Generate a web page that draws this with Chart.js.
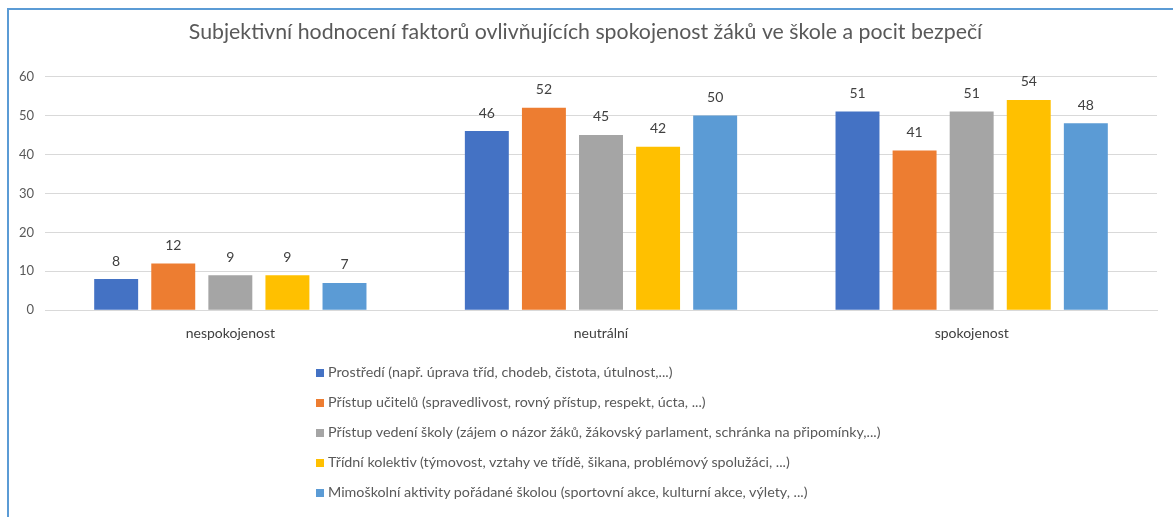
<!DOCTYPE html>
<html>
<head>
<meta charset="utf-8">
<script src="https://cdn.jsdelivr.net/npm/chart.js@4/dist/chart.umd.min.js"></script>
<style>
  html, body { margin: 0; padding: 0; background: #fff; }
  #wrap { position: relative; width: 1173px; height: 517px; overflow: hidden; }
  #frame { position: absolute; left: 7px; top: 8px; width: 1180px; height: 520px;
           border-left: 2px solid #5b9bd5; border-top: 2px solid #5b9bd5; box-sizing: border-box; }
  #chart { position: absolute; left: 0; top: 0; }
  #legend { position: absolute; left: 316px; top: 362px; font-family: Lato, sans-serif;
            font-size: 14.3px; color: #595959; }
  #legend div { height: 30px; line-height: 20px; white-space: nowrap; }
  #legend span { display: inline-block; width: 8px; height: 8px; margin-right: 4px; vertical-align: 0px; }
</style>
</head>
<body>
<div id="wrap">
  <div id="frame"></div>
  <canvas id="chart" width="1173" height="517"></canvas>
  <div id="legend"></div>
</div>
<script>
const categories = ["nespokojenost", "neutrální", "spokojenost"];
const seriesNames = [
  "Prostředí (např. úprava tříd, chodeb, čistota, útulnost,...)",
  "Přístup učitelů (spravedlivost, rovný přístup, respekt, úcta, ...)",
  "Přístup vedení školy (zájem o názor žáků, žákovský parlament, schránka na připomínky,...)",
  "Třídní kolektiv (týmovost, vztahy ve třídě, šikana, problémový spolužáci, ...)",
  "Mimoškolní aktivity pořádané školou (sportovní akce, kulturní akce, výlety, ...)"
];
const prostredi = [8, 46, 51];
const ucitele = [12, 52, 41];
const vedeni = [9, 45, 51];
const kolektiv = [9, 42, 54];
const aktivity = [7, 50, 48];
const yTicks = [0, 10, 20, 30, 40, 50, 60];

const colors = ["#4472c4", "#ed7d31", "#a5a5a5", "#ffc000", "#5b9bd5"];
const values = [prostredi, ucitele, vedeni, kolektiv, aktivity];

const datasets = values.map((v, i) => ({
  label: seriesNames[i],
  data: v,
  backgroundColor: colors[i],
  barPercentage: 0.77,
  categoryPercentage: 0.77,
}));

// value labels above bars
const valueLabels = {
  id: 'valueLabels',
  afterDatasetsDraw(chart) {
    const ctx = chart.ctx;
    ctx.save();
    ctx.font = '14px Lato, sans-serif';
    ctx.fillStyle = '#404040';
    ctx.textAlign = 'center';
    ctx.textBaseline = 'bottom';
    chart.data.datasets.forEach((ds, i) => {
      chart.getDatasetMeta(i).data.forEach((bar, j) => {
        ctx.fillText(ds.data[j], bar.x, bar.y - 11);
      });
    });
    ctx.restore();
  }
};

// html legend, one row per series
const htmlLegend = {
  id: 'htmlLegend',
  afterUpdate(chart) {
    const box = document.getElementById('legend');
    box.innerHTML = '';
    chart.data.datasets.forEach(ds => {
      const row = document.createElement('div');
      const sw = document.createElement('span');
      sw.style.background = ds.backgroundColor;
      row.appendChild(sw);
      row.appendChild(document.createTextNode(ds.label));
      box.appendChild(row);
    });
  }
};

new Chart(document.getElementById('chart'), {
  type: 'bar',
  data: { labels: categories, datasets: datasets },
  plugins: [valueLabels, htmlLegend],
  options: {
    responsive: false,
    animation: false,
    layout: { padding: { left: 14, right: 16, top: 0, bottom: 168 } },
    plugins: {
      legend: { display: false },
      tooltip: { enabled: false },
      title: {
        display: true,
        text: 'Subjektivní hodnocení faktorů ovlivňujících spokojenost žáků ve škole a pocit bezpečí',
        color: '#595959',
        font: { family: 'Lato, sans-serif', size: 21.3, weight: 'normal' },
        padding: { top: 19, bottom: 32 }
      }
    },
    scales: {
      x: {
        grid: { display: false },
        border: { color: '#d9d9d9' },
        ticks: { color: '#404040', font: { family: 'Lato, sans-serif', size: 14 }, padding: 7 }
      },
      y: {
        min: 0,
        max: 60,
        afterFit: (s) => { s.width = 31; },
        afterBuildTicks: (s) => { s.ticks = yTicks.map(v => ({ value: v })); },
        grid: { color: '#d9d9d9', drawTicks: false },
        border: { display: false },
        ticks: { color: '#595959', font: { family: 'Lato, sans-serif', size: 13 }, padding: 11 }
      }
    }
  }
});
</script>
</body>
</html>
